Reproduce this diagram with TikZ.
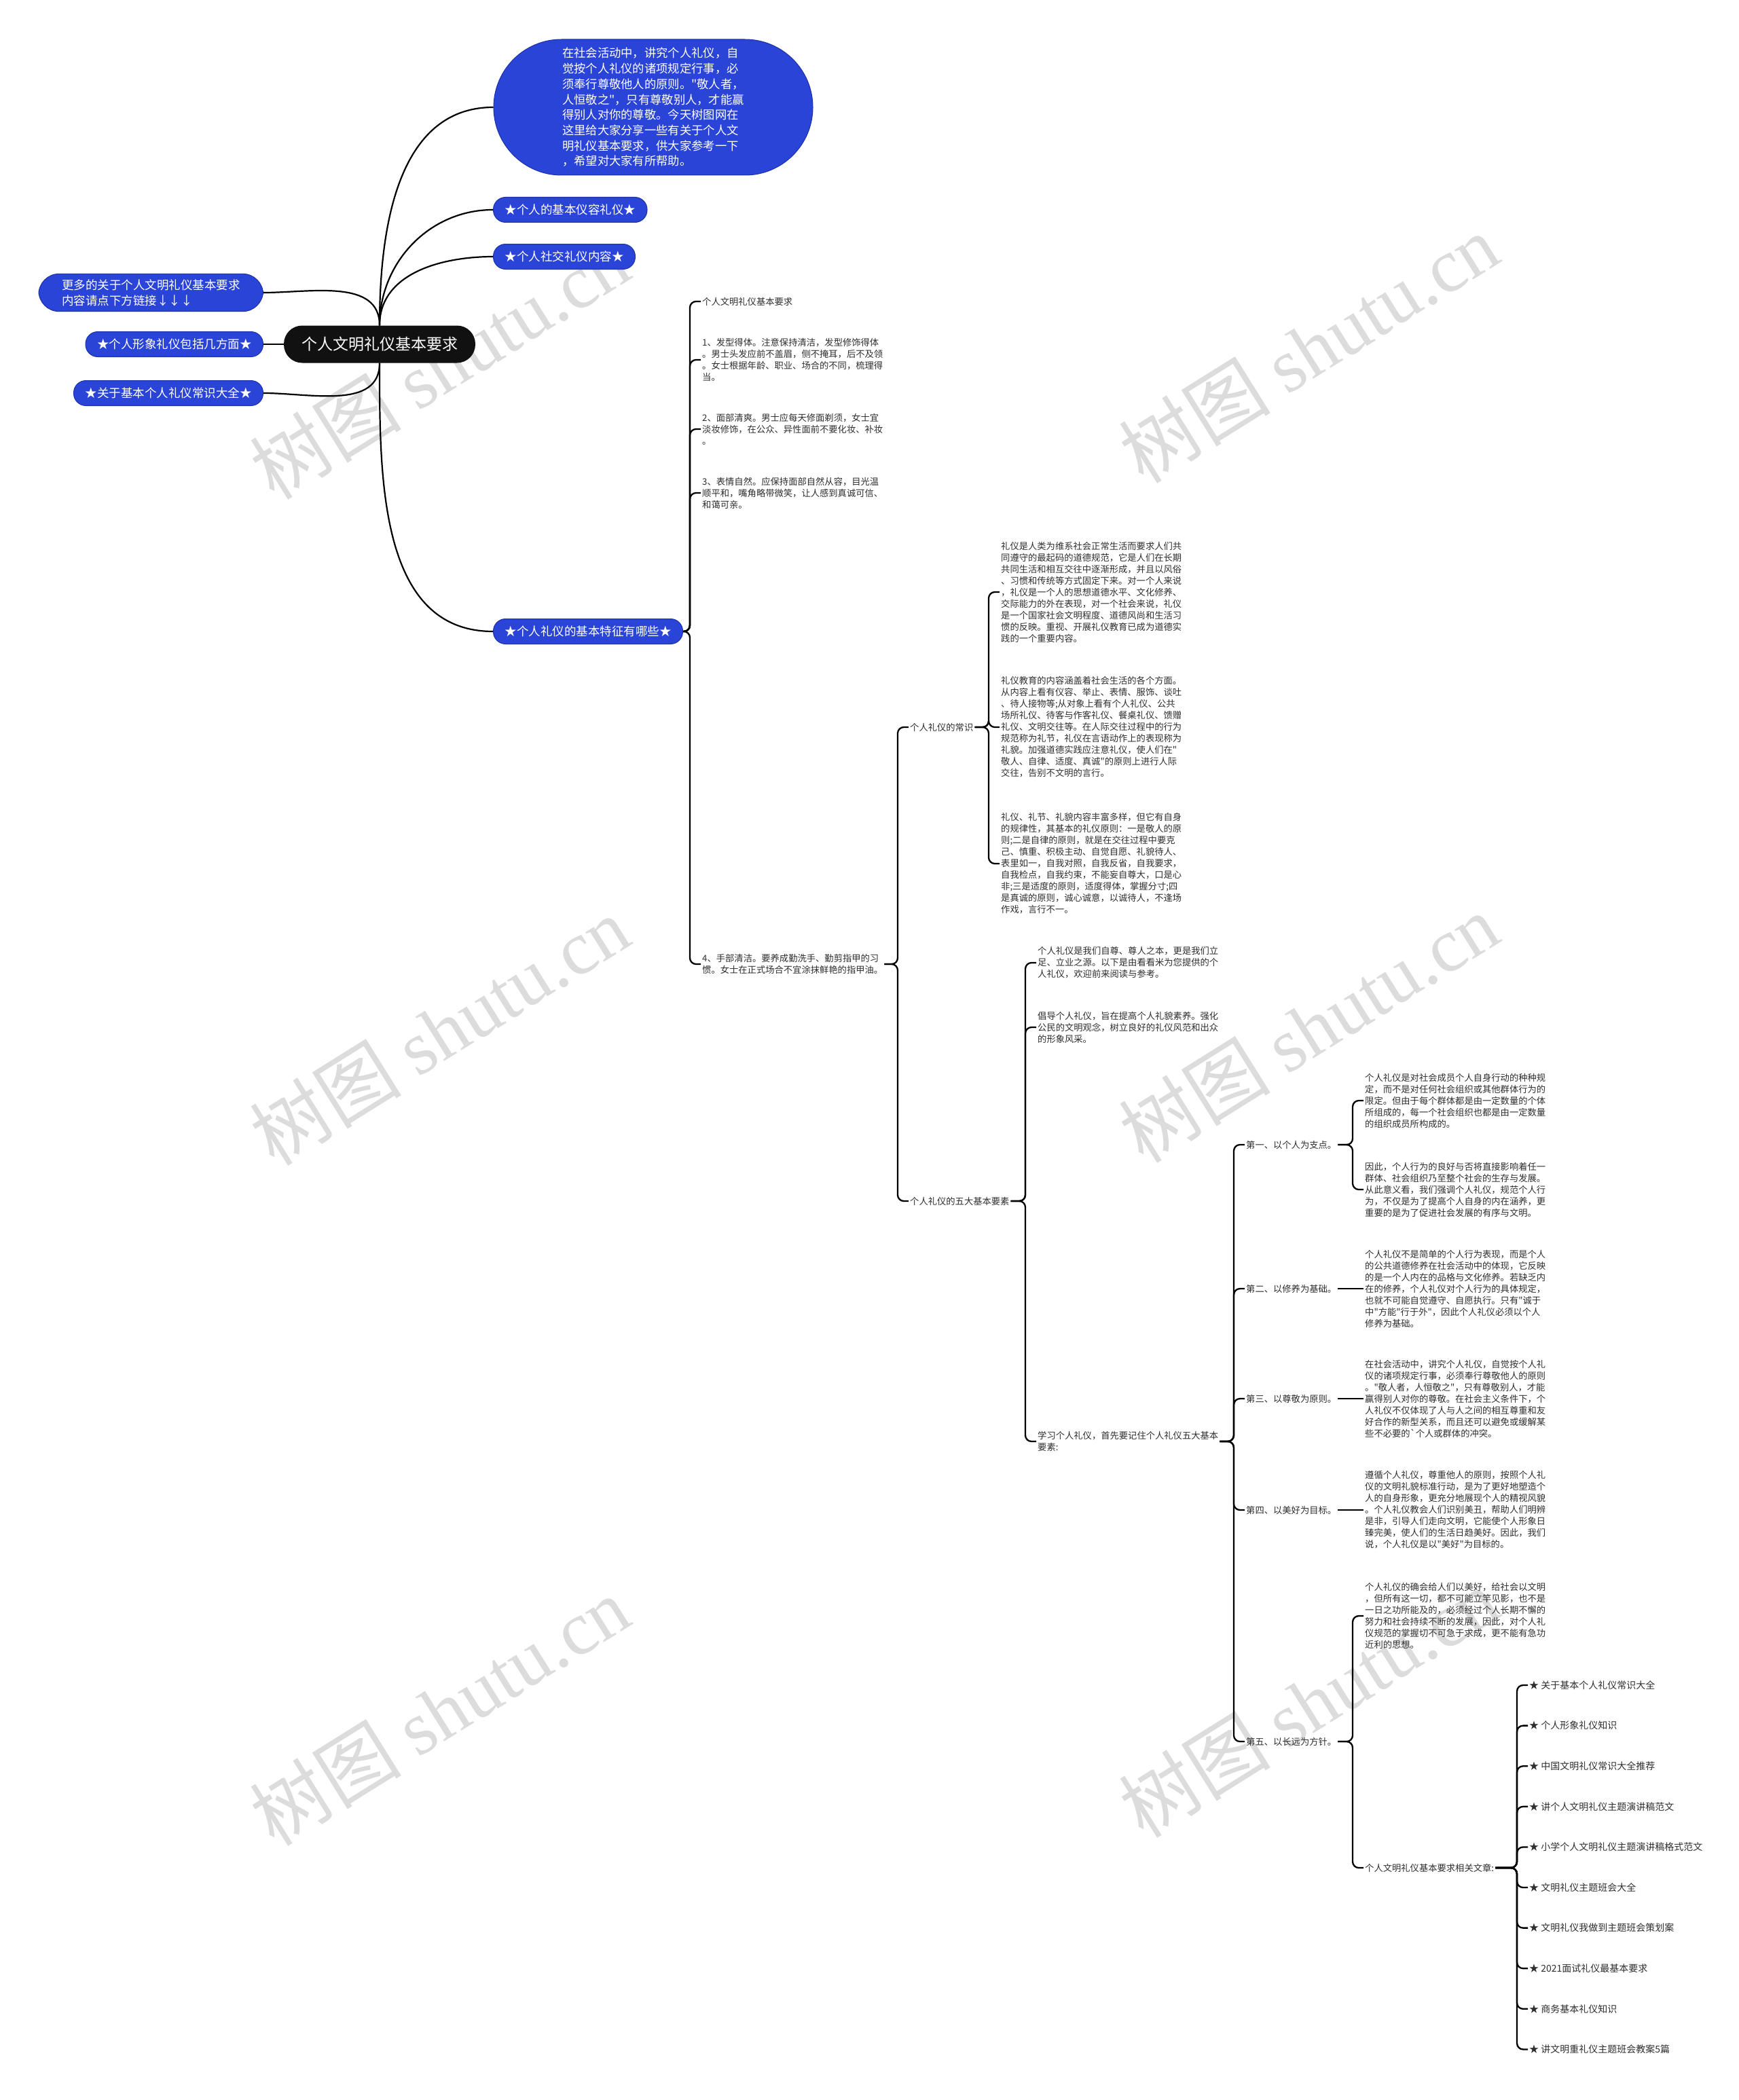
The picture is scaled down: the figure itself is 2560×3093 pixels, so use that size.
\documentclass[tikz,border=0pt]{standalone}
\usepackage{fontspec}
\newfontfamily\cjk{Noto Sans CJK SC}
\newfontfamily\wmserif{Liberation Serif}
\usetikzlibrary{positioning,backgrounds}
\definecolor{mapblue}{HTML}{2A44D8}
\definecolor{mapedge}{HTML}{1B2FA6}
\definecolor{rootblack}{HTML}{111111}
\definecolor{wmgray}{HTML}{DCDCDC}

\begin{document}
\begin{tikzpicture}[
  x=1pt,y=-1pt,
  font=\cjk,
  root/.style={rectangle,rounded corners=27pt,fill=rootblack,text=white,minimum width=282pt,minimum height=55pt,font=\cjk\fontsize{23}{27}\selectfont},
  intro/.style={rectangle,rounded corners=100pt,fill=mapblue,draw=mapedge,line width=1pt,text=white,align=left,minimum width=470pt,minimum height=200pt,font=\cjk\fontsize{17.3}{22.7}\selectfont},
  bnode/.style={rectangle,rounded corners=18pt,fill=mapblue,draw=mapedge,line width=1pt,text=white,inner xsep=17pt,inner ysep=4pt,minimum height=37pt,font=\cjk\fontsize{17.5}{23}\selectfont},
  txt/.style={anchor=west,align=left,inner sep=2pt,text=black!82,font=\cjk\fontsize{13.3}{17}\selectfont},
  art/.style={txt,font=\cjk\fontsize{14}{17}\selectfont},
  curve/.style={draw=black,line width=2.2pt},
  link/.style={draw=black,line width=2.3pt,rounded corners=9pt},
  wm/.style={text=wmgray,rotate=32,font=\cjk\fontsize{112}{112}\selectfont}
]
\useasboundingbox (0,0) rectangle (2560,3093);
\fill[white] (0,0) rectangle (2560,3093);
\foreach \wx/\wy [count=\k] in {647/537,1927/513,647/1518,1927/1514,647/2520,1927/2508}
  \node[wm] (wm\k) at (\wx,\wy) {树图 {\wmserif shutu.cn}};

\node[root] (root) at (559,507) {个人文明礼仪基本要求};
\node[intro] (intro) at (962,158) {在社会活动中，讲究个人礼仪，自\\觉按个人礼仪的诸项规定行事，必\\须奉行尊敬他人的原则。"敬人者，\\人恒敬之"，只有尊敬别人，才能赢\\得别人对你的尊敬。今天树图网在\\这里给大家分享一些有关于个人文\\明礼仪基本要求，供大家参考一下\\，希望对大家有所帮助。};
\node[bnode,anchor=west] (rongyi) at (726,309) {★个人的基本仪容礼仪★};
\node[bnode,anchor=west] (shejiao) at (726,378) {★个人社交礼仪内容★};
\node[bnode,anchor=west] (tezheng) at (726,930) {★个人礼仪的基本特征有哪些★};
\node[bnode,anchor=east,align=left,inner xsep=34pt,inner ysep=8pt,rounded corners=30pt] (gengduo) at (388,431) {更多的关于个人文明礼仪基本要求\\内容请点下方链接↓↓↓};
\node[bnode,anchor=east] (xingxiang) at (388,507) {★个人形象礼仪包括几方面★};
\node[bnode,anchor=east] (changshi) at (388,579) {★关于基本个人礼仪常识大全★};

\draw[curve] (root.north) to[out=90,in=180] (intro.west);
\draw[curve] (root.north) to[out=90,in=180] (rongyi.west);
\draw[curve] (root.north) to[out=90,in=180] (shejiao.west);
\draw[curve] (root.south) to[out=-90,in=180] (tezheng.west);
\draw[curve] (gengduo.east) to[out=0,in=90] (root.north);
\draw[curve] (xingxiang.east) -- (root.west);
\draw[curve] (changshi.east) to[out=0,in=-90] (root.south);

\node[txt] (a0) at (1032,444) {个人文明礼仪基本要求};
\node[txt] (a1) at (1032,530) {1、发型得体。注意保持清洁，发型修饰得体\\。男士头发应前不盖眉，侧不掩耳，后不及领\\。女士根据年龄、职业、场合的不同，梳理得\\当。};
\node[txt] (a2) at (1032,632) {2、面部清爽。男士应每天修面剃须，女士宜\\淡妆修饰，在公众、异性面前不要化妆、补妆\\。};
\node[txt] (a3) at (1032,726) {3、表情自然。应保持面部自然从容，目光温\\顺平和，嘴角略带微笑，让人感到真诚可信、\\和蔼可亲。};
\node[txt] (a4) at (1032,1420) {4、手部清洁。要养成勤洗手、勤剪指甲的习\\惯。女士在正式场合不宜涂抹鲜艳的指甲油。};
\foreach \c in {a0,a1,a2,a3,a4}
  \draw[link] (tezheng.east) -| ([xshift=-16pt]\c.west) -- (\c.west);

\node[txt] (b1) at (1338,1071) {个人礼仪的常识};
\node[txt] (b2) at (1338,1769) {个人礼仪的五大基本要素};
\foreach \c in {b1,b2}
  \draw[link] (a4.east) -| ([xshift=-16pt]\c.west) -- (\c.west);

\node[txt] (c1) at (1472,872) {礼仪是人类为维系社会正常生活而要求人们共\\同遵守的最起码的道德规范，它是人们在长期\\共同生活和相互交往中逐渐形成，并且以风俗\\、习惯和传统等方式固定下来。对一个人来说\\，礼仪是一个人的思想道德水平、文化修养、\\交际能力的外在表现，对一个社会来说，礼仪\\是一个国家社会文明程度、道德风尚和生活习\\惯的反映。重视、开展礼仪教育已成为道德实\\践的一个重要内容。};
\node[txt] (c2) at (1472,1071) {礼仪教育的内容涵盖着社会生活的各个方面。\\从内容上看有仪容、举止、表情、服饰、谈吐\\、待人接物等;从对象上看有个人礼仪、公共\\场所礼仪、待客与作客礼仪、餐桌礼仪、馈赠\\礼仪、文明交往等。在人际交往过程中的行为\\规范称为礼节，礼仪在言语动作上的表现称为\\礼貌。加强道德实践应注意礼仪，使人们在"\\敬人、自律、适度、真诚"的原则上进行人际\\交往，告别不文明的言行。};
\node[txt] (c3) at (1472,1272) {礼仪、礼节、礼貌内容丰富多样，但它有自身\\的规律性，其基本的礼仪原则：一是敬人的原\\则;二是自律的原则，就是在交往过程中要克\\己、慎重、积极主动、自觉自愿、礼貌待人、\\表里如一，自我对照，自我反省，自我要求，\\自我检点，自我约束，不能妄自尊大，口是心\\非;三是适度的原则，适度得体，掌握分寸;四\\是真诚的原则，诚心诚意，以诚待人，不逢场\\作戏，言行不一。};
\foreach \c in {c1,c2,c3}
  \draw[link] (b1.east) -| ([xshift=-16pt]\c.west) -- (\c.west);

\node[txt] (d1) at (1526,1418) {个人礼仪是我们自尊、尊人之本，更是我们立\\足、立业之源。以下是由看看米为您提供的个\\人礼仪，欢迎前来阅读与参考。};
\node[txt] (d2) at (1526,1513) {倡导个人礼仪，旨在提高个人礼貌素养。强化\\公民的文明观念，树立良好的礼仪风范和出众\\的形象风采。};
\node[txt] (d3) at (1526,2123) {学习个人礼仪，首先要记住个人礼仪五大基本\\要素:};
\foreach \c in {d1,d2,d3}
  \draw[link] (b2.east) -| ([xshift=-16pt]\c.west) -- (\c.west);

\node[txt] (e1) at (1833,1686) {第一、以个人为支点。};
\node[txt] (e2) at (1833,1898) {第二、以修养为基础。};
\node[txt] (e3) at (1833,2060) {第三、以尊敬为原则。};
\node[txt] (e4) at (1833,2224) {第四、以美好为目标。};
\node[txt] (e5) at (1833,2565) {第五、以长远为方针。};
\foreach \c in {e1,e2,e3,e4,e5}
  \draw[link] (d3.east) -| ([xshift=-16pt]\c.west) -- (\c.west);

\node[txt] (f1a) at (2008,1621) {个人礼仪是对社会成员个人自身行动的种种规\\定，而不是对任何社会组织或其他群体行为的\\限定。但由于每个群体都是由一定数量的个体\\所组成的，每一个社会组织也都是由一定数量\\的组织成员所构成的。};
\node[txt] (f1b) at (2008,1752) {因此，个人行为的良好与否将直接影响着任一\\群体、社会组织乃至整个社会的生存与发展。\\从此意义看，我们强调个人礼仪，规范个人行\\为，不仅是为了提高个人自身的内在涵养，更\\重要的是为了促进社会发展的有序与文明。};
\node[txt] (f2) at (2008,1898) {个人礼仪不是简单的个人行为表现，而是个人\\的公共道德修养在社会活动中的体现，它反映\\的是一个人内在的品格与文化修养。若缺乏内\\在的修养，个人礼仪对个人行为的具体规定，\\也就不可能自觉遵守、自愿执行。只有"诚于\\中"方能"行于外"，因此个人礼仪必须以个人\\修养为基础。};
\node[txt] (f3) at (2008,2060) {在社会活动中，讲究个人礼仪，自觉按个人礼\\仪的诸项规定行事，必须奉行尊敬他人的原则\\。"敬人者，人恒敬之"，只有尊敬别人，才能\\赢得别人对你的尊敬。在社会主义条件下，个\\人礼仪不仅体现了人与人之间的相互尊重和友\\好合作的新型关系，而且还可以避免或缓解某\\些不必要的`个人或群体的冲突。};
\node[txt] (f4) at (2008,2224) {遵循个人礼仪，尊重他人的原则，按照个人礼\\仪的文明礼貌标准行动，是为了更好地塑造个\\人的自身形象，更充分地展现个人的精视风貌\\。个人礼仪教会人们识别美丑，帮助人们明辨\\是非，引导人们走向文明，它能使个人形象日\\臻完美，使人们的生活日趋美好。因此，我们\\说，个人礼仪是以"美好"为目标的。};
\node[txt] (f5a) at (2008,2380) {个人礼仪的确会给人们以美好，给社会以文明\\，但所有这一切，都不可能立竿见影，也不是\\一日之功所能及的，必须经过个人长期不懈的\\努力和社会持续不断的发展，因此，对个人礼\\仪规范的掌握切不可急于求成，更不能有急功\\近利的思想。};
\node[txt] (f5b) at (2008,2751) {个人文明礼仪基本要求相关文章:};
\foreach \c in {f1a,f1b}
  \draw[link] (e1.east) -| ([xshift=-16pt]\c.west) -- (\c.west);
\draw[link] (e2.east) -- (f2.west);
\draw[link] (e3.east) -- (f3.west);
\draw[link] (e4.east) -- (f4.west);
\foreach \c in {f5a,f5b}
  \draw[link] (e5.east) -| ([xshift=-16pt]\c.west) -- (\c.west);

\foreach \t [count=\i] in {关于基本个人礼仪常识大全,个人形象礼仪知识,中国文明礼仪常识大全推荐,讲个人文明礼仪主题演讲稿范文,小学个人文明礼仪主题演讲稿格式范文,文明礼仪主题班会大全,文明礼仪我做到主题班会策划案,2021面试礼仪最基本要求,商务基本礼仪知识,讲文明重礼仪主题班会教案5篇}{
  \node[art] (g\i) at (2250,2482+59.6*\i-59.6) {★ \t};
  \draw[link] (f5b.east) -| ([xshift=-16pt]g\i.west) -- (g\i.west);
}
\end{tikzpicture}
\end{document}
